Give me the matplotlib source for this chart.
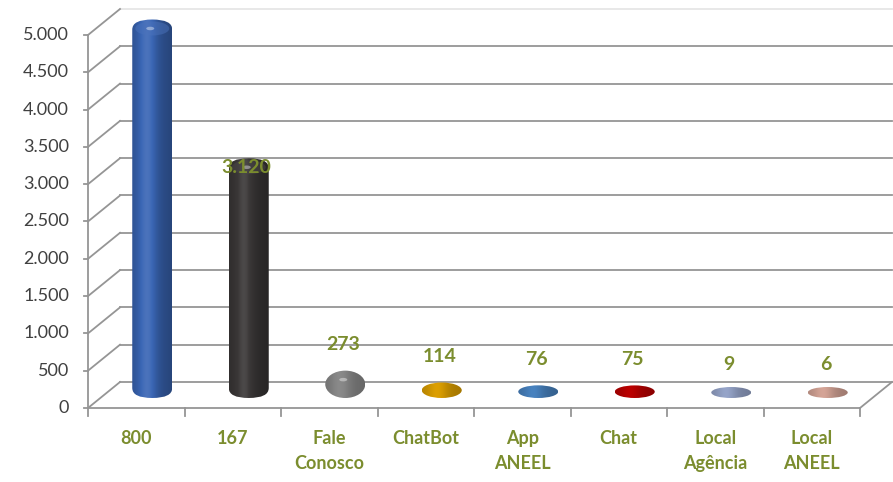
import numpy as np
import matplotlib.pyplot as plt
from matplotlib.patches import FancyBboxPatch, Ellipse
from matplotlib.colors import to_rgb

# data
categories = ["800", "167", "Fale\nConosco", "ChatBot", "App\nANEEL", "Chat",
              "Local\nAgência", "Local\nANEEL"]
values = [4980, 3120, 273, 114, 76, 75, 9, 6]
bar_colors = ["#3A66B5", "#3B3838", "#8E8E8E", "#E3A400", "#4A86C5", "#C00000",
              "#9AA9CF", "#DBA99B"]
y_ticks = [0, 500, 1000, 1500, 2000, 2500, 3000, 3500, 4000, 4500, 5000]

plt.rcParams["font.family"] = ["Lato", "DejaVu Sans"]

OLIVE = "#7B8D2E"
GRID = "#959595"

# pixel geometry of the pseudo-3D frame
W, H = 893, 482
px_x = 96.5            # pixels per category
px_y = 373 / 5000      # pixels per value unit
left_px, floor_px = 88, 408
dx = 32 / px_x         # depth offset (x units)
dy = 26 / px_y         # depth offset (value units)
n = len(categories)

fig = plt.figure(figsize=(W / 100, H / 100), dpi=100)
ax = fig.add_axes([0, 0, 1, 1])
xlim = (-0.5 - left_px / px_x, -0.5 + (W - left_px) / px_x)
ylim = (-(H - floor_px) / px_y, floor_px / px_y)
ax.axis("off")


def fmt(v):
    return f"{v:,}".replace(",", ".")


def shade(c, f):
    c = np.array(to_rgb(c))
    if f < 1:
        return c * f
    return c + (1 - c) * (f - 1)


def gradient(c, m=64, soft=1.0):
    t = np.linspace(0, 1, m)
    prof = 0.8 + soft * 0.3 * np.exp(-((t - 0.38) / 0.25) ** 2) - soft * 0.12 * t ** 2
    prof = np.clip(prof, 0.6, 1.3)
    return np.array([[shade(c, f) for f in prof]])


# walls and gridlines
x_front = -0.5
x_back = x_front + dx
x_end = n - 0.5 + dx
for v in y_ticks:
    col = "#E6E6E6" if v == y_ticks[-1] else GRID
    ax.plot([x_back, x_end], [v + dy, v + dy], color=col, lw=1.3, zorder=1)
    ax.plot([x_front, x_back], [v, v + dy], color=GRID, lw=1.3, zorder=1)
    ax.plot([x_front - 4 / px_x, x_front], [v, v], color=GRID, lw=1.3, zorder=1)
    ax.text(x_front - 19 / px_x, v, fmt(v), ha="right", va="center",
            fontsize=13, color="#404040")
ax.plot([x_front, x_front], [0, y_ticks[-1]], color=GRID, lw=1.3, zorder=1)

# floor
ax.plot([x_front, n - 0.5], [0, 0], color=GRID, lw=1.3, zorder=1)
ax.plot([n - 0.5, x_end], [0, dy], color=GRID, lw=1.3, zorder=1)
for i in range(n + 1):
    ax.plot([i - 0.5, i - 0.5], [0, -8 / px_y], color=GRID, lw=1.3, zorder=1)

# cylinders
bw = 40 / px_x
base = 10 / px_y
extra = 7 / px_y
min_h = 11 / px_y
r_y = 10 / px_y
for i, (v, c) in enumerate(zip(values, bar_colors)):
    cx = i + dx / 2
    h = max(v + extra, min_h)
    y0 = base
    tall = h * px_y >= 40
    if not tall:
        patch = Ellipse((cx, y0 + h / 2), bw, h, facecolor="none",
                        edgecolor="none", zorder=3)
    else:
        patch = FancyBboxPatch((cx - bw / 2, y0), bw, h,
                               boxstyle=f"round,pad=0,rounding_size={bw / 2}",
                               mutation_aspect=r_y / (bw / 2),
                               facecolor="none", edgecolor="none", zorder=3)
    ax.add_patch(patch)
    im = ax.imshow(gradient(c, soft=1.0 if tall else 0.6),
                   extent=[cx - bw / 2, cx + bw / 2, y0, y0 + h],
                   aspect="auto", interpolation="bilinear", zorder=3)
    im.set_clip_path(patch)
    if tall:
        # lighter top cap
        ax.add_patch(Ellipse((cx, y0 + h - r_y * 0.9), bw * 0.85, r_y * 1.4,
                             facecolor=shade(c, 1.08), edgecolor="none",
                             alpha=0.5, zorder=4))
    if h * px_y >= 20:
        ax.add_patch(Ellipse((cx - bw * 0.05, y0 + h - min(h * 0.45, r_y * 0.9)),
                             bw * 0.2, min(h * 0.15, r_y * 0.35),
                             facecolor="white", edgecolor="none", alpha=0.4,
                             zorder=5))

    # data labels
    ly = v + 110 if v >= 1000 else v + 580
    if ly <= y_ticks[-1]:
        ax.text(cx - 2 / px_x, ly, fmt(v), ha="center", va="center",
                fontsize=14, fontweight="bold", color=OLIVE, zorder=6)

# category labels
for i, lab in enumerate(categories):
    ax.text(i, -(430 - floor_px) / px_y, lab, ha="center", va="top",
            fontsize=13, fontweight="bold", color=OLIVE, linespacing=1.55)

ax.set_xlim(*xlim)
ax.set_ylim(*ylim)
fig.savefig("out.png", dpi=100)
